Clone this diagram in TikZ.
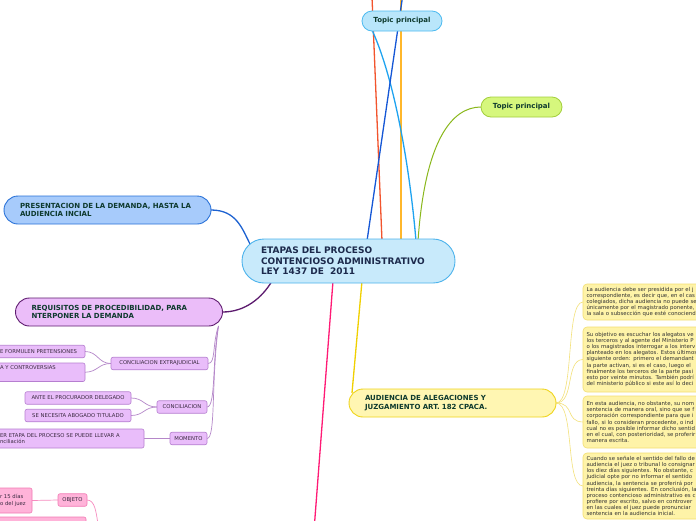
\documentclass[tikz,border=0pt]{standalone}
\usepackage{fontspec}
\setmainfont{DejaVu Sans}
\usetikzlibrary{backgrounds}
\definecolor{cfill}{HTML}{C8EAFB}
\definecolor{cdraw}{HTML}{4DB3EC}
\definecolor{ctext}{HTML}{1C2A4C}
\definecolor{dtext}{HTML}{0E3A2E}
\definecolor{pfill}{HTML}{A7CBFB}
\definecolor{pdraw}{HTML}{2A72D8}
\definecolor{rfill}{HTML}{EBBDF9}
\definecolor{rdraw}{HTML}{5F1C70}
\definecolor{afill}{HTML}{FFF6B2}
\definecolor{adraw}{HTML}{EFD41C}
\definecolor{t1fill}{HTML}{B9E6FB}
\definecolor{t1draw}{HTML}{4DBAF0}
\definecolor{t2fill}{HTML}{D6F77D}
\definecolor{t2draw}{HTML}{A3CF3C}
\definecolor{sfill}{HTML}{E9BDFA}
\definecolor{sdraw}{HTML}{B67FD0}
\definecolor{yfill}{HTML}{FEF3A8}
\definecolor{ydraw}{HTML}{F3DF72}
\definecolor{kfill}{HTML}{FFB3D9}
\definecolor{kdraw}{HTML}{F27AB4}
\definecolor{lred}{HTML}{F2542D}
\definecolor{lblue}{HTML}{1557D6}
\definecolor{lorange}{HTML}{FFB72B}
\definecolor{lsky}{HTML}{1EA3F0}
\definecolor{lgreen}{HTML}{8AB81C}
\definecolor{lpres}{HTML}{1D62D1}
\definecolor{lreq}{HTML}{5C1A6E}
\definecolor{lpink}{HTML}{FF1A75}
\definecolor{lyel}{HTML}{F0D000}
\definecolor{lylt}{HTML}{F3E17A}
\definecolor{lpur}{HTML}{B587C9}
\definecolor{lpk}{HTML}{F78CC0}
\definecolor{stext}{HTML}{3A2A40}
\begin{document}
\begin{tikzpicture}[x=1pt,y=-1pt,
  every node/.style={inner sep=0pt, outer sep=0pt},
  cnode/.style={draw=cdraw, fill=cfill, line width=0.9pt, rounded corners=22pt,
    align=left, text width=175pt, inner xsep=19pt, minimum height=44pt,
    font=\fontsize{9}{10.7}\selectfont\bfseries, text=ctext},
  bignode/.style={line width=0.9pt, rounded corners=14pt, align=left,
    text width=175pt, inner xsep=16pt, minimum height=28pt,
    font=\fontsize{7}{8.3}\selectfont\bfseries, text=dtext},
  topicnode/.style={line width=0.8pt, rounded corners=10pt, minimum width=80pt,
    minimum height=20pt, font=\fontsize{7}{8}\selectfont\bfseries, text=dtext},
  smallnode/.style={draw=sdraw, fill=sfill, line width=0.6pt, rounded corners=2pt,
    minimum height=12.5pt, font=\fontsize{5.3}{6.3}\selectfont, text=stext},
  pinknode/.style={draw=kdraw, fill=kfill, line width=0.6pt, rounded corners=2pt,
    minimum height=12.5pt, font=\fontsize{5.3}{6.3}\selectfont, text=stext},
  ybox/.style={draw=ydraw, fill=yfill, line width=0.6pt, rounded corners=4pt,
    align=left, text width=150pt, inner xsep=3.5pt, anchor=north west,
    font=\fontsize{5.4}{6.1}\selectfont, text=black!80},
  mainline/.style={line width=1.3pt},
  thinline/.style={line width=0.7pt}
]
\clip (0,0) rectangle (696,520);

% central node
\node[cnode] (C) at (348.5,261) {\mbox{ETAPAS DEL PROCESO}\\\mbox{CONTENCIOSO ADMINISTRATIVO}\\\mbox{LEY 1437 DE\ \ 2011}};

% topics
\node[topicnode, draw=t1draw, fill=t1fill] (T1) at (402,21) {Topic principal};
\node[topicnode, draw=t2draw, fill=t2fill, minimum width=81pt] (T2) at (521.5,107) {Topic principal};

% main branches
\node[bignode, draw=pdraw, fill=pfill, minimum width=207pt] (P) at (107.5,210) {\mbox{PRESENTACION DE LA DEMANDA, HASTA LA}\\\mbox{AUDIENCIA INCIAL}};
\node[bignode, draw=rdraw, fill=rfill] (R) at (119,312) {\mbox{REQUISITOS DE PROCEDIBILIDAD, PARA}\\\mbox{NTERPONER LA DEMANDA}};
\node[bignode, draw=adraw, fill=afill] (A) at (452.5,403) {\mbox{AUDIENCIA DE ALEGACIONES Y}\\\mbox{JUZGAMIENTO ART. 182 CPACA.}};

% purple subtree
\node[smallnode, minimum width=97pt] (CE) at (159.5,363.5) {CONCILIACION EXTRAJUDICIAL};
\node[smallnode, minimum width=50pt] (CO) at (182,407) {CONCILIACION};
\node[smallnode, minimum width=37pt] (MO) at (188.5,438.5) {MOMENTO};
\node[smallnode, anchor=east, align=left, text width=82pt, inner xsep=3pt] (L1) at (85,351.5) {\mbox{E FORMULEN PRETENSIONES}};
\node[smallnode, anchor=north east, align=left, text width=82pt, inner xsep=3pt, inner ysep=2.5pt, minimum height=18.5pt, text depth=9pt] (L2) at (85,363) {\mbox{A Y CONTROVERSIAS}};
\node[smallnode, minimum width=106pt] (L3) at (78,398) {ANTE EL PROCURADOR DELEGADO};
\node[smallnode, minimum width=106pt] (L4) at (78,415.5) {SE NECESITA ABOGADO TITULADO};
\node[smallnode, anchor=east, align=left, text width=141pt, inner xsep=3pt, minimum height=19pt] (L5) at (144,438.5) {\mbox{ER ETAPA DEL PROCESO SE PUEDE LLEVAR A}\\\mbox{nciliación}};

% pink subtree
\node[pinknode, minimum width=29pt] (OB) at (72.5,500) {OBJETO};
\node[pinknode, anchor=east, align=left, text width=29pt, inner xsep=3pt, minimum height=25pt] (K1) at (32,500.5) {\mbox{r 15 días}\\\mbox{o del juez}};
\node[pinknode, anchor=north east, minimum width=100pt, minimum height=20pt] (K2) at (86,517) {};

% yellow text boxes
\node[ybox, minimum height=36pt] (Y1) at (583,284) {La audiencia debe ser presidida por el j\\correspondiente, es decir que, en el cas\\colegiados, dicha audiencia no puede se\\únicamente por el magistrado ponente,\\la sala o subsección que esté conociend};
\node[ybox, minimum height=65pt] (Y2) at (583,327) {Su objetivo es escuchar los alegatos ve\\los terceros y al agente del Ministerio P\\o los magistrados interrogar a los interv\\planteado en los alegatos. Estos últimos\\siguiente orden: primero el demandant\\la parte activan, si es el caso, luego el\\finalmente los terceros de la parte pasi\\esto por veinte minutos. También podrí\\del ministerio público si este así lo deci};
\node[ybox, minimum height=52pt] (Y3) at (583,396) {En esta audiencia, no obstante, su nom\\sentencia de manera oral, sino que se f\\corporación correspondiente para que i\\fallo, si lo consideran procedente, o ind\\cual no es posible informar dicho sentid\\en el cual, con posterioridad, se proferir\\manera escrita.};
\node[ybox, minimum height=66pt] (Y4) at (583,453) {Cuando se señale el sentido del fallo de\\audiencia el juez o tribunal lo consignar\\los diez días siguientes. No obstante, c\\judicial opte por no informar el sentido\\audiencia, la sentencia se proferirá por\\treinta días siguientes. En conclusión, la\\proceso contencioso administrativo es c\\profiere por escrito, salvo en controver\\en las cuales el juez puede pronunciar\\sentencia en la audiencia inicial.};

\begin{scope}[on background layer]
\fill[white] (0,0) rectangle (696,520);
% free ends and attachment points
\coordinate (redtop) at (372,-3);
\coordinate (bluetop) at (402.5,-3);
\coordinate (orangetop) at (401,-3);
\coordinate (cRed) at (382,241);
\coordinate (cBlue) at (367,241);
\coordinate (cOrange) at (401,241);
\coordinate (cSky) at (416,241);
\coordinate (cGreen) at (418,241);
\coordinate (cPres) at (250,244);
\coordinate (cReq) at (272,281);
\coordinate (cPink) at (333,281);
\coordinate (cYel) at (362,281);
\coordinate (pinkend) at (314.5,524);
\coordinate (aTop) at (352,393);
\coordinate (rq) at (218.5,326);
\coordinate (objend) at (98,524);
\coordinate (t1a) at (372,30);

\draw[mainline, lred] (cRed) -- (redtop);
\draw[mainline, lorange] (cOrange) -- (orangetop);
\draw[mainline, lsky] (t1a) .. controls (395,80) and (410,170) .. (cSky);
\draw[mainline, lblue] (cBlue) -- (bluetop);
\draw[thinline, lgreen, line width=1pt] (cGreen) .. controls (425,140) and (452,107) .. (T2.west);
\draw[mainline, lpres] (P.east) .. controls (236,210) and (242,228) .. (cPres);
\draw[mainline, lreq] (R.east) .. controls (245,312) and (262,298) .. (cReq);
\draw[mainline, lpink] (cPink) -- (pinkend);
\draw[mainline, lyel] (cYel) -- (aTop);

% purple children
\draw[thinline, lpur] (rq) .. controls (212,345) and (216,363.5) .. (CE.east);
\draw[thinline, lpur] (rq) .. controls (212,360) and (216,407) .. (CO.east);
\draw[thinline, lpur] (rq) .. controls (211,380) and (216,438.5) .. (MO.east);
\draw[thinline, lpur] (CE.west) .. controls (98,363.5) and (98,351.5) .. (L1.east);
\draw[thinline, lpur] (CE.west) .. controls (98,363.5) and (98,372) .. (L2.east);
\draw[thinline, lpur] (CO.west) .. controls (144,407) and (144,398) .. (L3.east);
\draw[thinline, lpur] (CO.west) .. controls (144,407) and (144,415.5) .. (L4.east);
\draw[thinline, lpur] (MO.west) -- (L5.east);

% pink
\draw[thinline, lpk] (OB.west) -- (K1.east);
\draw[thinline, lpk] (OB.east) .. controls (95,500) and (96,512) .. (objend);

% yellow boxes
\draw[line width=0.6pt, lylt] (A.east) .. controls (575,403) and (565,302) .. (Y1.west);
\draw[line width=0.6pt, lylt] (A.east) .. controls (575,403) and (565,359.5) .. (Y2.west);
\draw[line width=0.6pt, lylt] (A.east) .. controls (575,403) and (565,421.5) .. (Y3.west);
\draw[line width=0.6pt, lylt] (A.east) .. controls (575,403) and (565,486) .. (Y4.west);
\end{scope}
\end{tikzpicture}
\end{document}
